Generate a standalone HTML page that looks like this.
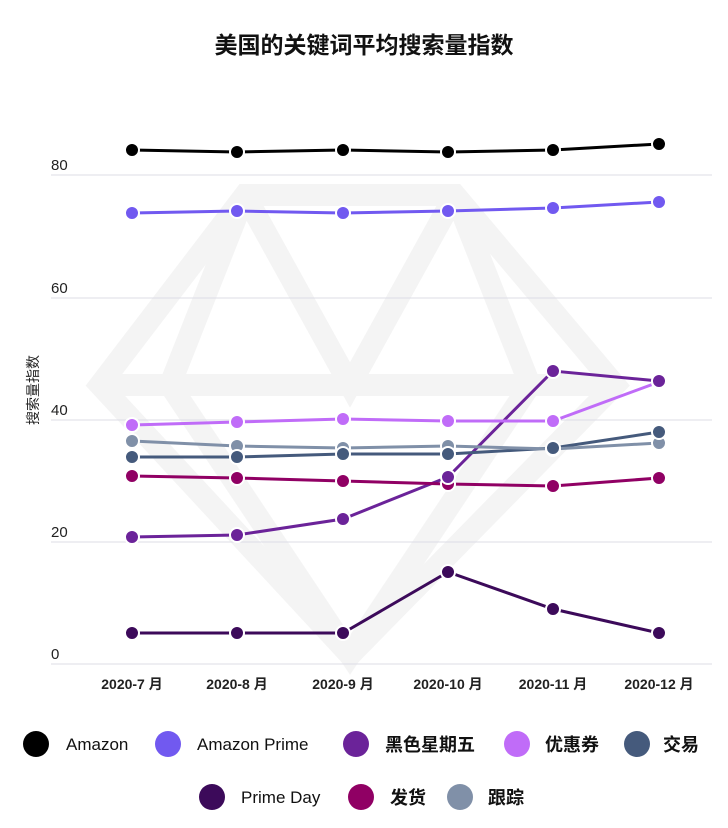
<!DOCTYPE html>
<html><head><meta charset="utf-8"><style>
body{margin:0;background:#fff;}
svg{display:block;font-family:"Liberation Sans","Noto Sans CJK SC",sans-serif;}
</style></head><body>
<svg width="728" height="828" viewBox="0 0 728 828">
<rect width="728" height="828" fill="#fff"/>
<g fill="none" stroke="#f4f4f4" stroke-width="22">
<polygon points="245,195 455,195 615,385 350,655 100,385"/>
<polyline points="100,385 615,385"/>
<polyline points="245,195 350,385 455,195"/>
<polyline points="245,195 170,385 350,655 530,385 455,195"/>
</g>
<text x="364" y="53" text-anchor="middle" font-size="23" font-weight="bold" fill="#111">美国的关键词平均搜索量指数</text>
<g stroke="#dcdde6" stroke-width="1">
<line x1="51" y1="175" x2="712" y2="175"/><line x1="51" y1="298" x2="712" y2="298"/>
<line x1="51" y1="420" x2="712" y2="420"/><line x1="51" y1="542" x2="712" y2="542"/>
<line x1="51" y1="664" x2="712" y2="664"/>
</g>
<g font-size="15" fill="#222">
<text x="51" y="170">80</text><text x="51" y="293">60</text><text x="51" y="415">40</text><text x="51" y="537">20</text><text x="51" y="659">0</text>
</g>
<text transform="translate(38,390) rotate(-90)" text-anchor="middle" font-size="14" fill="#222">搜索量指数</text>
<g font-size="14" font-weight="bold" fill="#222" text-anchor="middle">
<text x="132" y="689">2020-7 月</text><text x="237" y="689">2020-8 月</text><text x="343" y="689">2020-9 月</text>
<text x="448" y="689">2020-10 月</text><text x="553" y="689">2020-11 月</text><text x="659" y="689">2020-12 月</text>
</g>
<g stroke-width="3" fill="none">
<polyline stroke="#000" points="132,150 237,152 343,150 448,152 553,150 659,144"/>
<polyline stroke="#7159f0" points="132,213 237,211 343,213 448,211 553,208 659,202"/>
<polyline stroke="#6b2399" points="132,537 237,535 343,519 448,477 553,371 659,381"/>
<polyline stroke="#c06cf8" points="132,425 237,422 343,419 448,421 553,421 659,382"/>
<polyline stroke="#455a7c" points="132,457 237,457 343,454 448,454 553,448 659,432"/>
<polyline stroke="#3c0a5a" points="132,633 237,633 343,633 448,572 553,609 659,633"/>
<polyline stroke="#900064" points="132,476 237,478 343,481 448,484 553,486 659,478"/>
<polyline stroke="#8090a8" points="132,441 237,446 343,448 448,446 553,449 659,443"/>
</g>
<g stroke="#fff" stroke-width="2">
<g fill="#000"><circle cx="132" cy="150" r="7"/><circle cx="237" cy="152" r="7"/><circle cx="343" cy="150" r="7"/><circle cx="448" cy="152" r="7"/><circle cx="553" cy="150" r="7"/><circle cx="659" cy="144" r="7"/></g>
<g fill="#7159f0"><circle cx="132" cy="213" r="7"/><circle cx="237" cy="211" r="7"/><circle cx="343" cy="213" r="7"/><circle cx="448" cy="211" r="7"/><circle cx="553" cy="208" r="7"/><circle cx="659" cy="202" r="7"/></g>
<g fill="#8090a8"><circle cx="132" cy="441" r="7"/><circle cx="237" cy="446" r="7"/><circle cx="343" cy="448" r="7"/><circle cx="448" cy="446" r="7"/><circle cx="553" cy="449" r="7"/><circle cx="659" cy="443" r="7"/></g>
<g fill="#455a7c"><circle cx="132" cy="457" r="7"/><circle cx="237" cy="457" r="7"/><circle cx="343" cy="454" r="7"/><circle cx="448" cy="454" r="7"/><circle cx="553" cy="448" r="7"/><circle cx="659" cy="432" r="7"/></g>
<g fill="#c06cf8"><circle cx="132" cy="425" r="7"/><circle cx="237" cy="422" r="7"/><circle cx="343" cy="419" r="7"/><circle cx="448" cy="421" r="7"/><circle cx="553" cy="421" r="7"/><circle cx="659" cy="382" r="7"/></g>
<g fill="#900064"><circle cx="132" cy="476" r="7"/><circle cx="237" cy="478" r="7"/><circle cx="343" cy="481" r="7"/><circle cx="448" cy="484" r="7"/><circle cx="553" cy="486" r="7"/><circle cx="659" cy="478" r="7"/></g>
<g fill="#6b2399"><circle cx="132" cy="537" r="7"/><circle cx="237" cy="535" r="7"/><circle cx="343" cy="519" r="7"/><circle cx="448" cy="477" r="7"/><circle cx="553" cy="371" r="7"/><circle cx="659" cy="381" r="7"/></g>
<g fill="#3c0a5a"><circle cx="132" cy="633" r="7"/><circle cx="237" cy="633" r="7"/><circle cx="343" cy="633" r="7"/><circle cx="448" cy="572" r="7"/><circle cx="553" cy="609" r="7"/><circle cx="659" cy="633" r="7"/></g>
</g>
<g font-size="17" fill="#111">
<circle cx="36" cy="744" r="13" fill="#000"/><text x="66" y="750">Amazon</text>
<circle cx="168" cy="744" r="13" fill="#7159f0"/><text x="197" y="750">Amazon Prime</text>
<circle cx="356" cy="744" r="13" fill="#6b2399"/><text x="385" y="751" font-weight="bold" font-size="18">黑色星期五</text>
<circle cx="517" cy="744" r="13" fill="#c06cf8"/><text x="545" y="751" font-weight="bold" font-size="18">优惠券</text>
<circle cx="637" cy="744" r="13" fill="#455a7c"/><text x="663" y="751" font-weight="bold" font-size="18">交易</text>
<circle cx="212" cy="797" r="13" fill="#3c0a5a"/><text x="241" y="803">Prime Day</text>
<circle cx="361" cy="797" r="13" fill="#900064"/><text x="390" y="804" font-weight="bold" font-size="18">发货</text>
<circle cx="460" cy="797" r="13" fill="#8090a8"/><text x="488" y="804" font-weight="bold" font-size="18">跟踪</text>
</g>
</svg>
</body></html>
